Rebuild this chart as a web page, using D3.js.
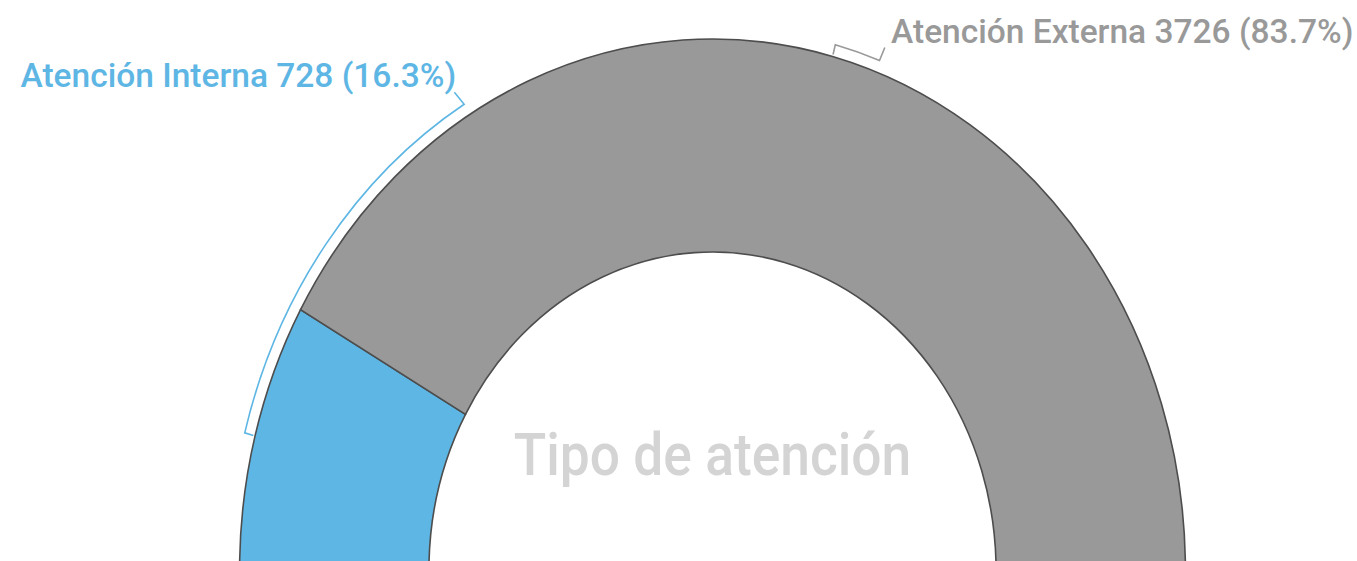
<!DOCTYPE html>
<html>
<head>
<meta charset="utf-8">
<script src="https://cdn.jsdelivr.net/npm/d3@7"></script>
<style>
  html, body { margin: 0; padding: 0; background: #fff; }
  svg { display: block; font-family: Roboto, "Noto Sans", sans-serif; }
</style>
</head>
<body>
<svg id="chart" width="1357" height="561"></svg>
<script>
// data
const categories = ["Atención Interna", "Atención Externa"];
const values = [728, 3726];
const percents = ["16.3%", "83.7%"];
const colors = ["#5eb6e4", "#999999"];
const title = "Tipo de atención";

// layout
const width = 1357, height = 561;
const cx = 712.5, cy = 571;
const sx = 0.889; // chart is squeezed horizontally
const outerR = 532, innerR = 319;
const bracketR = outerR + 12;
// where each connector ends along the arc (radians) and where its text goes
const labelAngle = [-30.9 * Math.PI / 180, 20.2 * Math.PI / 180];
const leadOffset = [[-11, -12], [6, -13]];
const textOffset = [[-9, -17], [13, -17]];
const anchors = ["end", "start"];

const svg = d3.select("#chart");
const g = svg.append("g")
    .attr("transform", `translate(${cx},${cy}) scale(${sx},1)`);

const pie = d3.pie()
    .sort(null)
    .startAngle(-Math.PI / 2)
    .endAngle(Math.PI / 2);

const arc = d3.arc().innerRadius(innerR).outerRadius(outerR);
const slices = pie(values);

g.selectAll("path.slice")
    .data(slices)
    .join("path")
    .attr("class", "slice")
    .attr("d", arc)
    .attr("fill", (d, i) => colors[i])
    .attr("stroke", "#4d4d4d")
    .attr("stroke-width", 1.6)
    .attr("vector-effect", "non-scaling-stroke");

// centre title
g.append("text")
    .attr("x", 0).attr("y", 475 - cy)
    .attr("text-anchor", "middle")
    .attr("fill", "#d4d4d4")
    .attr("font-size", 60)
    .attr("font-weight", 500)
    .text(title);

// connectors: tick out from the slice middle, follow the arc, then hook to the label
const pt = (a, r) => [r * Math.sin(a), -r * Math.cos(a)];

slices.forEach((d, i) => {
    const mid = (d.startAngle + d.endAngle) / 2;
    const end = labelAngle[i];
    const p0 = pt(mid, outerR + 2);
    const p1 = pt(mid, bracketR);
    const p2 = pt(end, bracketR);
    const p3 = [p2[0] + leadOffset[i][0], p2[1] + leadOffset[i][1]];
    const sweep = end > mid ? 1 : 0;
    const path = `M${p0}L${p1}A${bracketR},${bracketR} 0 0 ${sweep} ${p2}L${p3}`;
    g.append("path")
        .attr("d", path)
        .attr("fill", "none")
        .attr("stroke", colors[i])
        .attr("stroke-width", 1.6)
        .attr("vector-effect", "non-scaling-stroke");

    // labels are not squeezed, so undo the horizontal scale on them
    const tx = p2[0] + textOffset[i][0];
    const ty = p2[1] + textOffset[i][1];
    g.append("text")
        .attr("transform", `translate(${tx},${ty}) scale(${1 / sx},1)`)
        .attr("text-anchor", anchors[i])
        .attr("fill", colors[i])
        .attr("font-size", 33.5)
        .attr("font-weight", 500)
        .text(`${categories[i]} ${values[i]} (${percents[i]})`);
});
</script>
</body>
</html>
